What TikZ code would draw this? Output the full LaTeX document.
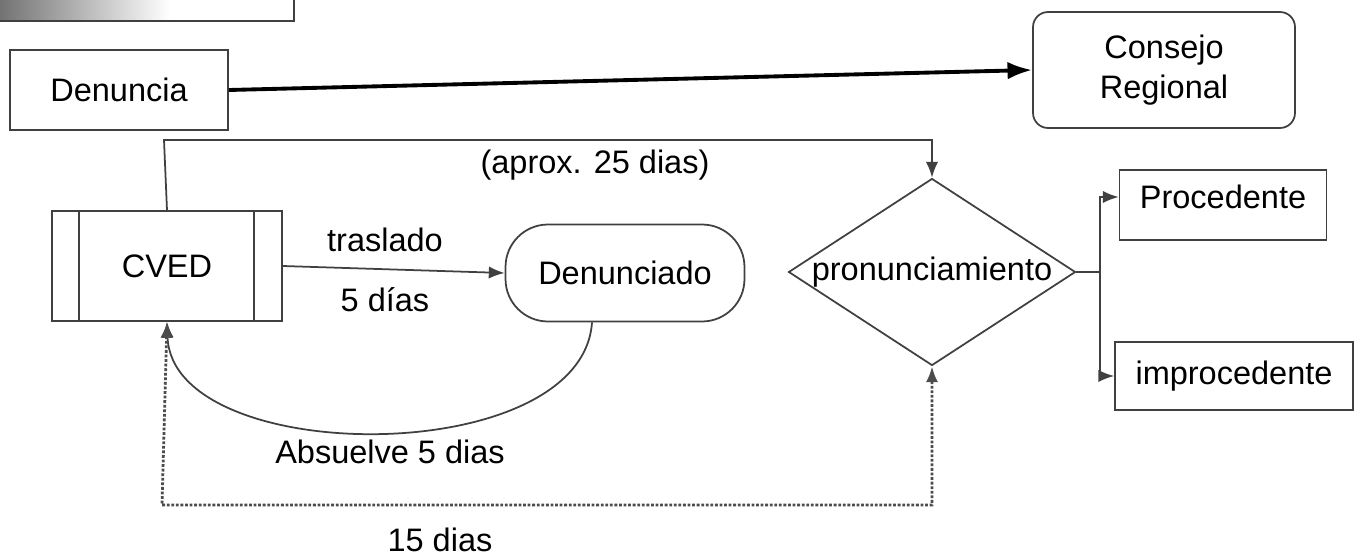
\documentclass[tikz,border=0pt]{standalone}
\usepackage{fontspec}
\setmainfont{Liberation Sans}
\usepackage{tikz}
\usetikzlibrary{shapes.geometric,arrows.meta,positioning}

\begin{document}
\begin{tikzpicture}[x=0.02cm,y=-0.02cm,align=center,
    font=\fontsize{18.5}{22.5}\selectfont,
    >={Latex[length=9pt,width=7pt]},
    caja/.style={draw=black!75,line width=1pt,rectangle,inner sep=0pt},
    flujo/.style={draw=black!75,line width=1pt},
    punteado/.style={draw=black!70,densely dotted,line width=1.6pt}]
    \useasboundingbox (0,0) rectangle (1362,558);
    % borde de la figura de arriba
    \shade[left color=black!55,right color=white] (0,0) rectangle (170,20);
    \draw[flujo] (0,21) -- (294,21) -- (294,0);
    \node[caja, minimum width=4.36cm, minimum height=1.6cm] at (119,90) (den) {Denuncia};
    \node[caja, rounded corners=0.3cm, minimum width=5.24cm, minimum height=2.32cm] at (1164,70) (con) {Consejo\\Regional};
    \node[caja, minimum width=4.6cm, minimum height=2.2cm] at (167,266) (cved) {CVED};
    \draw[flujo] ([xshift=0.56cm]cved.north west) -- ([xshift=0.56cm]cved.south west)
        ([xshift=-0.58cm]cved.north east) -- ([xshift=-0.58cm]cved.south east);
    \node[caja, rounded corners=0.85cm, minimum width=4.78cm, minimum height=1.94cm] at (625,273) (dnd) {Denunciado};
    \node[caja, diamond, minimum width=5.74cm, minimum height=3.74cm, label={center:pronunciamiento}] at (932,272) (pro) {};
    \node[caja, minimum width=4.14cm, minimum height=1.4cm] at (1223,205) (proc) {};
    \node at (1223,197) (proct) {Procedente};
    \node[caja, minimum width=4.76cm, minimum height=1.36cm] at (1234,376) (imp) {improcedente};
    \coordinate (rama) at (1100,272);
    \coordinate (arriba) at (164,140);
    \coordinate (abajo) at (162,505);

    \draw[line width=2.2pt,-{Latex[length=14pt,width=10pt]}] (den.east) -- (con.west);
    \draw[flujo,->] (cved.east) -- (dnd.west);
    \node at (385,240) (tras) {traslado};
    \node at (385,300) (d5) {5 días};
    \draw[flujo,->] (cved.north) -- (arriba) -| (pro.north);
    \node at (595,165) (d25) {(aprox. 25 dias)};
    \draw[flujo] (pro.east) -- (rama);
    \draw[flujo,->] (rama) |- (proc.west |- proct);
    \draw[flujo,->] (rama) |- (imp.west);
    \draw[flujo,->] ([xshift=-0.66cm]dnd.south) .. controls (582,470) and (172,468) .. (cved.south);
    \node at (390,452) (abs) {Absuelve 5 dias};
    \draw[punteado,<->] (cved.south) -- (abajo) -| (pro.south);
    \node at (440,540) (d15) {15 dias};
\end{tikzpicture}
\end{document}
